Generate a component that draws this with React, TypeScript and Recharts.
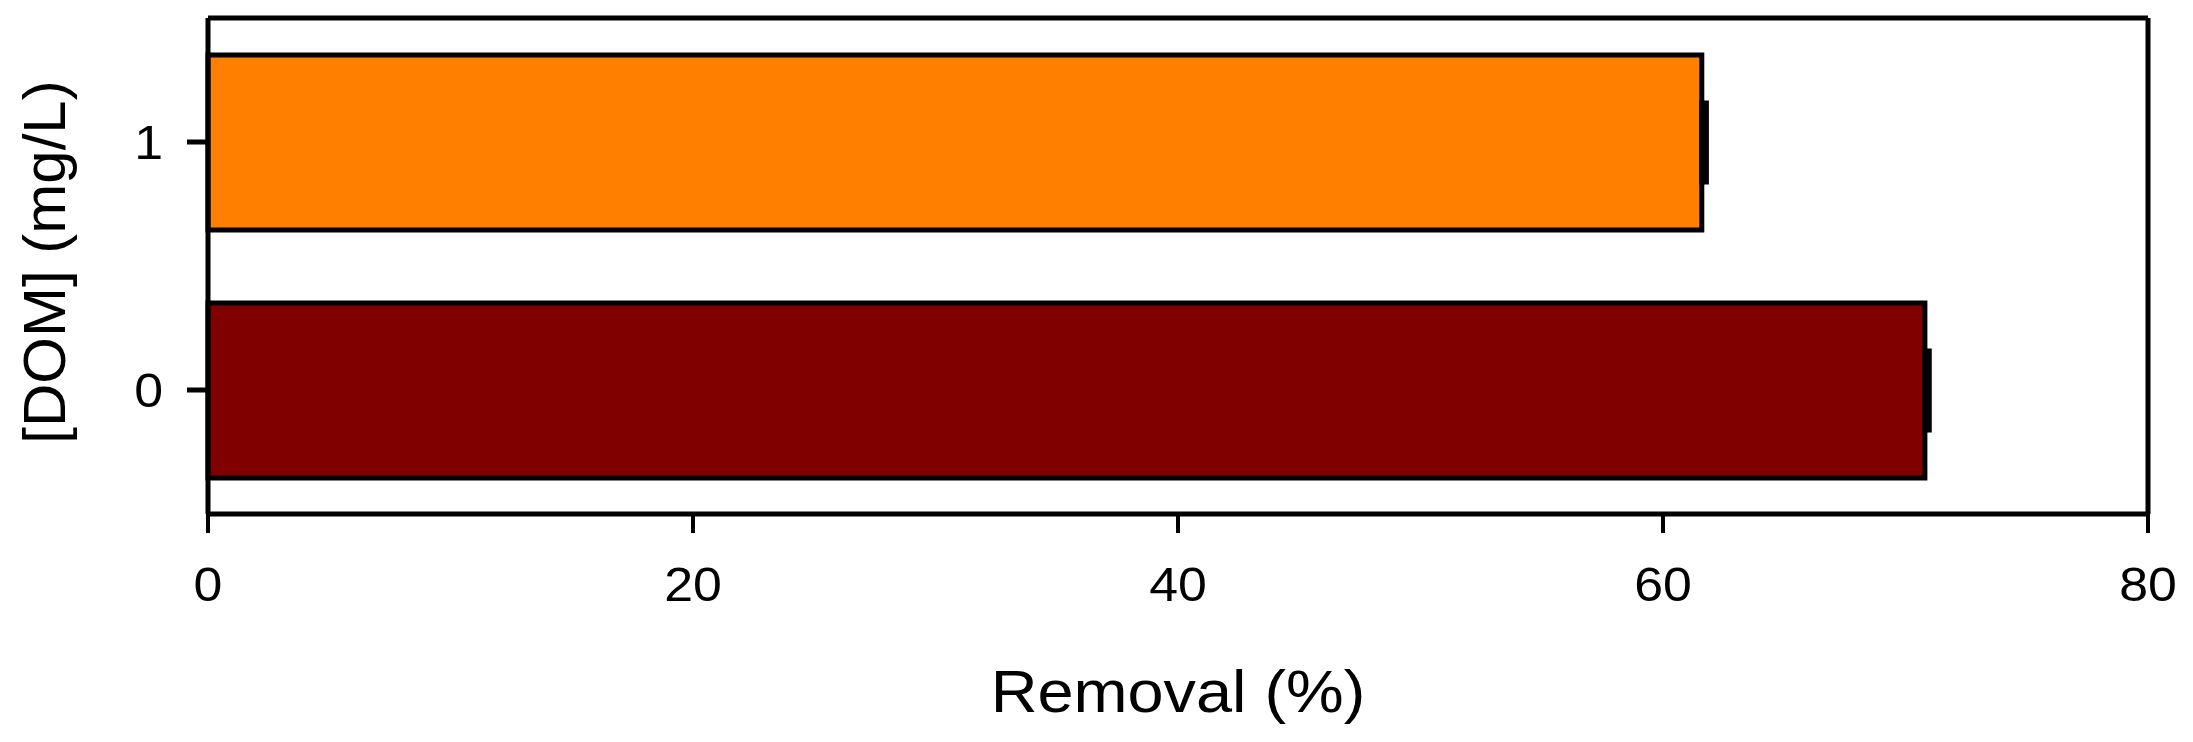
import { Bar, BarChart, Cell, ErrorBar, XAxis, YAxis } from "recharts";

// [DOM] levels (mg/L), bottom to top
const domLevels = ["0", "1"];
const removalPct = [70.8, 61.6];
const removalErr = [0.18, 0.19];
const barColors = ["#800000", "#FF8000"];
const removalTicks = [0, 20, 40, 60, 80];

const FONT = "'Liberation Sans', Arial, Helvetica, sans-serif";
// the source figure is a little wider than tall, text included
const STRETCH = 1.08;

const data = domLevels.map((dom, i) => ({
  dom,
  removal: removalPct[i],
  err: [0, removalErr[i]],
}));

function Tick(props: any) {
  const { x, y, payload, textAnchor, verticalAnchor } = props;
  const dy = verticalAnchor === "start" ? "0.71em" : "0.355em";
  return (
    <text
      transform={`translate(${x}, ${y}) scale(${STRETCH}, 1)`}
      x={0}
      y={0}
      dy={dy}
      textAnchor={textAnchor}
      fontSize={48}
      fontFamily={FONT}
      fill="#000"
    >
      {payload.value}
    </text>
  );
}

function YTitle({ viewBox }: any) {
  const { x, y, height } = viewBox;
  const bx = x + 65;
  const cy = y + height / 2 - 4;
  return (
    <text
      x={bx}
      y={cy}
      transform={`rotate(-90, ${bx}, ${cy})`}
      textAnchor="middle"
      fontSize={60}
      fontFamily={FONT}
      fill="#000"
    >
      [DOM] (mg/L)
    </text>
  );
}

function XTitle({ viewBox }: any) {
  const { x, y, width } = viewBox;
  const cx = x + width / 2;
  const by = y + 198;
  return (
    <text
      transform={`translate(${cx}, ${by}) scale(${STRETCH}, 1)`}
      x={0}
      y={0}
      textAnchor="middle"
      fontSize={60}
      fontFamily={FONT}
      fill="#000"
    >
      Removal (%)
    </text>
  );
}

export default function App() {
  return (
    <div style={{ position: "absolute", left: 0, top: 0, width: 2193, height: 742, background: "#fff" }}>
      <BarChart
        width={2193}
        height={742}
        data={data}
        layout="vertical"
        margin={{ top: 0, right: 0, bottom: 0, left: 0 }}
        barSize={175}
      >
        <XAxis
          type="number"
          dataKey="removal"
          domain={[0, 80]}
          ticks={removalTicks}
          height={228}
          tick={<Tick />}
          tickSize={19}
          tickMargin={34}
          axisLine={{ stroke: "#000", strokeWidth: 5 }}
          tickLine={{ stroke: "#000", strokeWidth: 4 }}
          label={<XTitle />}
        />
        <XAxis
          xAxisId="top"
          orientation="top"
          type="number"
          domain={[0, 80]}
          height={18}
          tick={false}
          tickLine={false}
          axisLine={{ stroke: "#000", strokeWidth: 5 }}
        />
        <YAxis
          type="category"
          dataKey="dom"
          reversed
          width={208}
          tick={<Tick />}
          tickSize={21}
          tickMargin={24}
          axisLine={{ stroke: "#000", strokeWidth: 5 }}
          tickLine={{ stroke: "#000", strokeWidth: 5 }}
          label={<YTitle />}
        />
        <YAxis
          yAxisId="right"
          orientation="right"
          type="category"
          dataKey="dom"
          reversed
          width={45}
          tick={false}
          tickLine={false}
          axisLine={{ stroke: "#000", strokeWidth: 5 }}
        />
        <Bar dataKey="removal" stroke="#000" strokeWidth={5} isAnimationActive={false}>
          {data.map((d, i) => (
            <Cell key={d.dom} fill={barColors[i]} />
          ))}
          <ErrorBar
            dataKey="err"
            direction="x"
            width={42}
            stroke="#000"
            strokeWidth={5}
            isAnimationActive={false}
          />
        </Bar>
      </BarChart>
    </div>
  );
}
